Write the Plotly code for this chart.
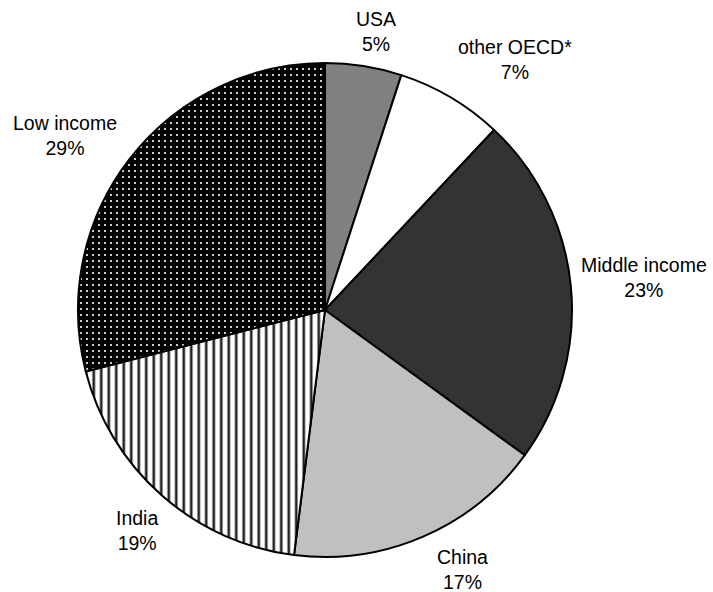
import plotly.graph_objects as go

# Share of total by region (percent)
regions = ["USA", "other OECD*", "Middle income", "China", "India", "Low income"]
shares = [5, 7, 23, 17, 19, 29]

# Label block centres in pixels (x from left, y from top)
label_px = [(376, 31), (515, 60), (644, 277), (462, 569), (137, 530), (65, 135)]

W, H = 713, 592
CX, CY, R = 325, 310, 247

fills = ["#808080", "#ffffff", "#333333", "#c0c0c0", "#ffffff", "#000000"]
patterns = dict(
    shape=["", "", "", "", "|", "."],
    fgcolor=["#000", "#000", "#000", "#000", "#222222", "#ffffff"],
    bgcolor=["#808080", "#ffffff", "#333333", "#c0c0c0", "#ffffff", "#000000"],
    size=[8, 8, 8, 8, 7.5, 6],
    solidity=[0.3, 0.3, 0.3, 0.3, 0.35, 0.1],
    fillmode="replace",
)

fig = go.Figure(
    go.Pie(
        labels=regions,
        values=shares,
        sort=False,
        direction="clockwise",
        rotation=0,
        textinfo="none",
        hoverinfo="label+percent",
        marker=dict(colors=fills, line=dict(color="#000000", width=2), pattern=patterns),
        domain=dict(
            x=[(CX - R) / W, (CX + R) / W],
            y=[(H - CY - R) / H, (H - CY + R) / H],
        ),
        showlegend=False,
    )
)

for name, val, (px, py) in zip(regions, shares, label_px):
    fig.add_annotation(
        x=px / W,
        y=1 - py / H,
        xref="paper",
        yref="paper",
        xanchor="center",
        yanchor="middle",
        text=f"{name}<br>{val}%",
        showarrow=False,
        align="center",
        font=dict(family="Liberation Sans, Arial, sans-serif", size=19.5, color="#000000"),
    )

fig.update_layout(
    width=W,
    height=H,
    margin=dict(l=0, r=0, t=0, b=0),
    paper_bgcolor="#ffffff",
    plot_bgcolor="#ffffff",
)

fig.write_html("out.html")
